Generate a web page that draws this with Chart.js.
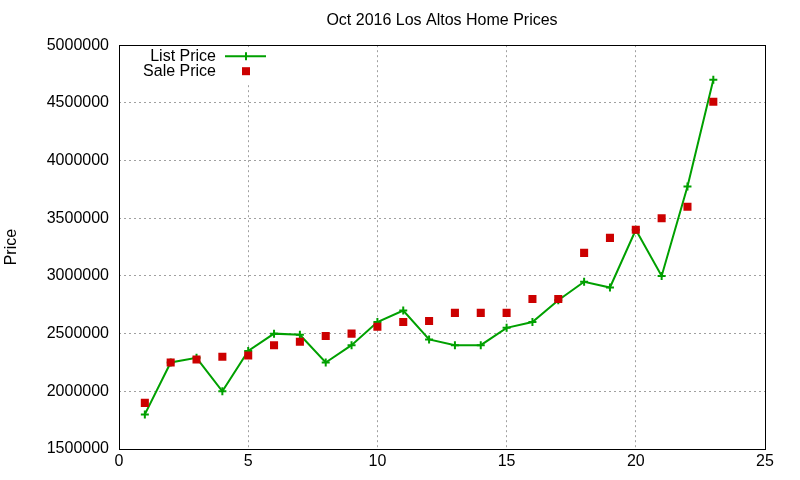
<!DOCTYPE html>
<html>
<head>
<meta charset="UTF-8">
<title>Oct 2016 Los Altos Home Prices</title>
<style>
body { margin: 0; background: #fff; }
</style>
</head>
<body>
<canvas id="myChart" width="800" height="480"></canvas>
<script src="https://cdn.jsdelivr.net/npm/chart.js@4.4.0/dist/chart.umd.min.js"></script>
<script type="text/javascript">
// data
const sales = [1, 2, 3, 4, 5, 6, 7, 8, 9, 10, 11, 12, 13, 14, 15, 16, 17, 18, 19, 20, 21, 22, 23];
const listPrice = [1800000, 2250000, 2290000, 2000000, 2350000, 2500000, 2490000, 2250000, 2400000, 2600000, 2700000, 2450000,
	2400000, 2400000, 2550000, 2600000, 2790000, 2950000, 2900000, 3400000, 3000000, 3775000, 4700000];
const salePrice = [1900000, 2250000, 2275000, 2300000, 2310000, 2400000, 2430000, 2480000, 2500000, 2560000, 2600000, 2610000,
	2680000, 2680000, 2680000, 2800000, 2800000, 3200000, 3330000, 3400000, 3500000, 3600000, 4510000];
const xTicks = [0, 5, 10, 15, 20, 25];
const yTicks = [1500000, 2000000, 2500000, 3000000, 3500000, 4000000, 4500000, 5000000];

const green = 'rgb(0, 160, 0)';
const red = 'rgb(204, 0, 0)';
const fontName = "'Liberation Sans', Arial, sans-serif";

// box round the plot + legend in the top left corner, like gnuplot
const frame = {
	id: 'frame',
	beforeDatasetsDraw(chart) {
		const a = chart.chartArea, ctx = chart.ctx;
		ctx.save();
		ctx.fillStyle = '#fff';
		ctx.fillRect(a.left + 20, a.top + 2, 135, 36);
		ctx.restore();
	},
	afterDraw(chart) {
		const a = chart.chartArea, ctx = chart.ctx;
		ctx.save();
		ctx.strokeStyle = '#000';
		ctx.lineWidth = 1;
		ctx.strokeRect(Math.round(a.left) + 0.5, Math.round(a.top) + 0.5,
			Math.round(a.right - a.left), Math.round(a.bottom - a.top));

		ctx.font = '16px ' + fontName;
		ctx.fillStyle = '#000';
		ctx.textAlign = 'right';
		ctx.textBaseline = 'middle';
		const tx = a.left + 97, mx = a.left + 127;
		const ds = chart.data.datasets;
		// list price
		let y = a.top + 11;
		ctx.fillText(ds[0].label, tx, y);
		ctx.strokeStyle = green;
		ctx.lineWidth = 2;
		ctx.beginPath();
		ctx.moveTo(a.left + 106, y); ctx.lineTo(a.left + 147, y);
		ctx.moveTo(mx, y - 4); ctx.lineTo(mx, y + 4);
		ctx.stroke();
		// sale price
		y = a.top + 26;
		ctx.fillText(ds[1].label, tx, y);
		ctx.fillStyle = red;
		ctx.fillRect(mx - 4, y - 4, 8, 8);
		ctx.restore();
	}
};

var ctx = document.getElementById('myChart').getContext('2d');
var chart = new Chart(ctx, {
	type: 'line',
	data: {
		datasets: [{
			label: 'List Price',
			data: sales.map((d, i) => ({x: d, y: listPrice[i]})),
			borderColor: green,
			backgroundColor: green,
			borderWidth: 2,
			pointStyle: 'cross',
			pointRadius: 4,
			pointBorderWidth: 2,
			tension: 0,
			order: 2
		}, {
			label: 'Sale Price',
			data: sales.map((d, i) => ({x: d, y: salePrice[i]})),
			showLine: false,
			borderColor: red,
			backgroundColor: red,
			pointStyle: 'rect',
			pointRadius: 5.7,
			pointBorderWidth: 0,
			order: 1
		}]
	},
	options: {
		responsive: false,
		animation: false,
		layout: { padding: { left: 0, right: 35, top: 0, bottom: 0 } },
		plugins: {
			legend: { display: false },
			tooltip: { enabled: false },
			title: {
				display: true,
				fullSize: false,
				text: 'Oct 2016 Los Altos Home Prices',
				color: '#000',
				font: { family: fontName, size: 16, weight: 'normal' },
				padding: { top: 11, bottom: 15 }
			}
		},
		scales: {
			x: {
				type: 'linear',
				min: xTicks[0],
				max: xTicks[xTicks.length - 1],
				afterFit: function(scale) { scale.height = 31; },
				afterBuildTicks: function(scale) { scale.ticks = xTicks.map(v => ({value: v})); },
				ticks: { color: '#000', padding: 3, font: { family: fontName, size: 16 } },
				grid: { color: '#a0a0a0', lineWidth: 1, drawTicks: false },
				border: { display: false, dash: [2, 3] }
			},
			y: {
				min: yTicks[0],
				max: yTicks[yTicks.length - 1],
				afterFit: function(scale) { scale.width = 119; },
				afterBuildTicks: function(scale) { scale.ticks = yTicks.map(v => ({value: v})); },
				title: {
					display: true,
					text: 'Price',
					color: '#000',
					font: { family: fontName, size: 16, weight: 'normal' },
					padding: { top: 2, bottom: 0 }
				},
				ticks: {
					color: '#000',
					padding: 10,
					font: { family: fontName, size: 16 },
					callback: function(v) { return String(v); }
				},
				grid: { color: '#a0a0a0', lineWidth: 1, drawTicks: false },
				border: { display: false, dash: [2, 3] }
			}
		}
	},
	plugins: [frame]
});
</script>
</body>
</html>
